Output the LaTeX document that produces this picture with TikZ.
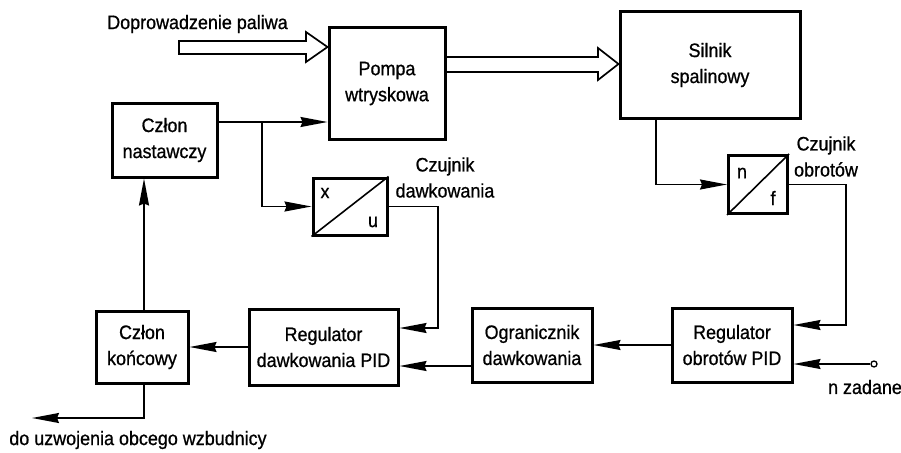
\documentclass[tikz,border=0pt]{standalone}
\usepackage{fontspec}
\setmainfont{Liberation Sans}[FakeStretch=0.92, FakeBold=0.8]
\usetikzlibrary{arrows.meta}

\begin{document}
\begin{tikzpicture}[
        x=1pt, y=-1pt,
        font=\fontsize{19.5}{26}\selectfont,
        block/.style={
          draw,
          line width=3pt,
          align=center,
          inner sep=0pt
          },
        sensor/.style={
          draw,
          line width=3pt,
          inner sep=0pt
          },
        plain/.style={
          draw=none,
          fill=none,
          align=center,
          inner sep=0pt
          },
        flow/.style={
          line width=1.7pt,
          line join=miter
          },
        line width=1.6pt,
        >={Stealth[length=27pt,width=10pt,inset=2pt]}
        ]
        \useasboundingbox (0,0) rectangle (901,452);
        % blocks
        \node[block, minimum width=116pt, minimum height=111pt] (pompa) at (387,83.5) {Pompa\\wtryskowa};
        \node[block, minimum width=180pt, minimum height=106pt] (silnik) at (710,65) {Silnik\\spalinowy};
        \node[block, minimum width=105pt, minimum height=74pt] (nastawczy) at (164.5,140) {Człon\\nastawczy};
        \node[sensor, minimum width=74pt, minimum height=57pt] (xu) at (350,206.5) {};
        \node[sensor, minimum width=59pt, minimum height=58pt] (nf) at (758,184.5) {};
        \node[block, minimum width=120pt, minimum height=74pt] (regobr) at (732,345) {Regulator\\obrotów PID};
        \node[block, minimum width=120pt, minimum height=74pt] (ogr) at (532,345) {Ogranicznik\\dawkowania};
        \node[block, minimum width=149pt, minimum height=76pt] (regdaw) at (323.5,347) {Regulator\\dawkowania PID};
        \node[block, minimum width=92pt, minimum height=72pt] (konc) at (142,347) {Człon\\końcowy};
        % sensor symbols
        \foreach \s in {xu,nf}
          \draw (\s.south west) -- (\s.north east);
        \node[plain] (xu-x) at (325,193) {x};
        \node[plain] (xu-u) at (373,222) {u};
        \node[plain] (nf-n) at (742,173) {n};
        \node[plain] (nf-f) at (773,198) {f};
        % labels
        \node[plain] (paliwo) at (197.5,24) {Doprowadzenie paliwa};
        \node[plain] (czd) at (445,177.5) {Czujnik\\dawkowania};
        \node[plain] (czo) at (826,156.5) {Czujnik\\obrotów};
        \node[plain] (nzad) at (865,387) {n zadane};
        \node[plain] (wzb) at (138,440) {do uzwojenia obcego wzbudnicy};
        \node[draw, circle, inner sep=0pt, minimum size=6pt, line width=1.3pt] (nin) at (874,364) {};
        \coordinate (split) at (262,122);
        \coordinate (out) at (32,418);
        % fuel flow
        \draw[flow] (179,41) -- (306,41) -- (306,32) -- (pompa.west |- 0,47)
          -- (306,62) -- (306,54) -- (179,54) -- cycle;
        \draw[flow] (pompa.east |- 0,57) -- (598,57) -- (598,48) -- (silnik.west |- 0,64)
          -- (598,80) -- (598,72) -- (pompa.east |- 0,72);
        % signals
        \draw[->] (nastawczy.east |- split) -- (pompa.west |- split);
        \draw[->] (split) |- (xu.west);
        \draw[->] (xu.east) -- (438,206.5) |- (regdaw.east |- 0,328);
        \draw[->] (silnik.south -| 656,0) |- (nf.west);
        \draw[->] (nf.east) -- (846,184.5) |- (regobr.east |- 0,325);
        \draw[->] (nin) -- (regobr.east |- nin);
        \draw[->] (regobr.west) -- (ogr.east);
        \draw[->] (ogr.west |- 0,366) -- (regdaw.east |- 0,366);
        \draw[->] (regdaw.west) -- (konc.east);
        \draw[->] (konc.north -| 144,0) -- (nastawczy.south -| 144,0);
        \draw[->] (konc.south -| 144,0) |- (out);
    \end{tikzpicture}
\end{document}
